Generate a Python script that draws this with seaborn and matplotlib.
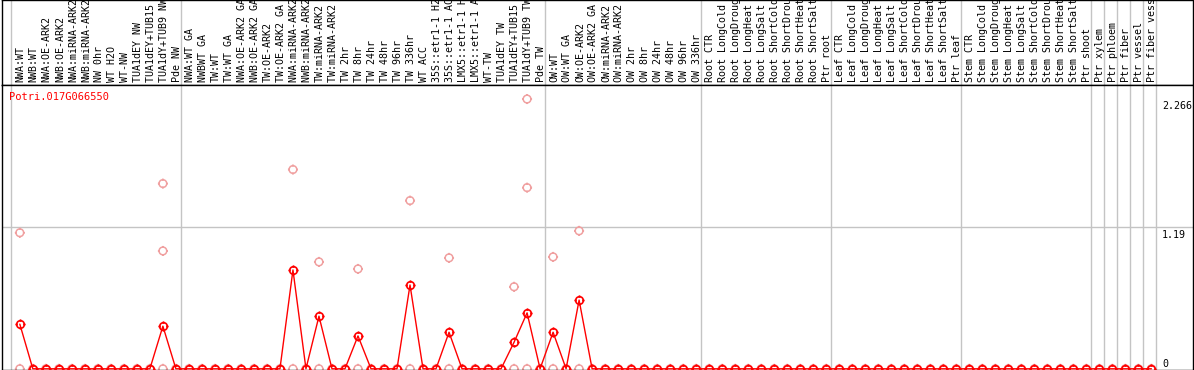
import numpy as np
import pandas as pd
import matplotlib
matplotlib.use("Agg")
import matplotlib.pyplot as plt
import matplotlib.transforms as mtransforms
from matplotlib.path import Path
from matplotlib.markers import MarkerStyle
import seaborn as sns

# ---------------- data ----------------
gene_name = "Potri.017G066550"

categories = [
    "NWA:WT", "NWB:WT", "NWA:OE-ARK2", "NWB:OE-ARK2", "NWA:miRNA-ARK2", "NWB:miRNA-ARK2",
    "NW 0hr", "WT H2O", "WT-NW", "TUA1dEY NW", "TUA1dEY+TUB15 NW", "TUA1dY+TUB9 NW", "Pde NW",
    "NWA:WT GA", "NWBWT GA", "TW:WT", "TW:WT GA", "NWA:OE-ARK2 GA", "NWB:OE-ARK2 GA",
    "TW:OE-ARK2", "TW:OE-ARK2 GA", "NWA:miRNA-ARK2 GA", "NWB:miRNA-ARK2 GA", "TW:miRNA-ARK2",
    "TW:miRNA-ARK2 GA", "TW 2hr", "TW 8hr", "TW 24hr", "TW 48hr", "TW 96hr", "TW 336hr",
    "WT ACC", "35S::etr1-1 H2O", "35S::etr1-1 ACC", "LMX5::etr1-1 H2O", "LMX5::etr1-1 ACC",
    "WT-TW", "TUA1dEY TW", "TUA1dEY+TUB15 TW", "TUA1dY+TUB9 TW", "Pde TW",
    "OW:WT", "OW:WT GA", "OW:OE-ARK2", "OW:OE-ARK2 GA", "OW:miRNA-ARK2", "OW:miRNA-ARK2 GA",
    "OW 2hr", "OW 8hr", "OW 24hr", "OW 48hr", "OW 96hr", "OW 336hr",
    "Root CTR", "Root LongCold", "Root LongDrought", "Root LongHeat", "Root LongSalt",
    "Root ShortCold", "Root ShortDrought", "Root ShortHeat", "Root ShortSalt", "Ptr root",
    "Leaf CTR", "Leaf LongCold", "Leaf LongDrought", "Leaf LongHeat", "Leaf LongSalt",
    "Leaf ShortCold", "Leaf ShortDrought", "Leaf ShortHeat", "Leaf ShortSalt", "Ptr leaf",
    "Stem CTR", "Stem LongCold", "Stem LongDrought", "Stem LongHeat", "Stem LongSalt",
    "Stem ShortCold", "Stem ShortDrought", "Stem ShortHeat", "Stem ShortSalt", "Ptr shoot",
    "Ptr xylem", "Ptr phloem", "Ptr fiber", "Ptr vessel", "Ptr fiber vessel",
]

# mean expression per category (categories not listed are 0)
nonzero_means = {
    "NWA:WT": 0.375,
    "TUA1dY+TUB9 NW": 0.358,
    "NWA:miRNA-ARK2 GA": 0.83,
    "TW:miRNA-ARK2": 0.442,
    "TW 8hr": 0.276,
    "TW 336hr": 0.704,
    "35S::etr1-1 ACC": 0.307,
    "TUA1dEY+TUB15 TW": 0.223,
    "TUA1dY+TUB9 TW": 0.47,
    "OW:WT": 0.307,
    "OW:OE-ARK2": 0.577,
}
mean_values = [nonzero_means.get(c, 0.0) for c in categories]

# non-zero replicate values (every category also has a replicate at 0)
replicate_values = {
    "NWA:WT": [1.143],
    "TUA1dY+TUB9 NW": [1.556, 0.99],
    "NWA:miRNA-ARK2 GA": [1.674],
    "TW:miRNA-ARK2": [0.898],
    "TW 8hr": [0.839],
    "TW 336hr": [1.413],
    "35S::etr1-1 ACC": [0.932],
    "TUA1dEY+TUB15 TW": [0.689],
    "TUA1dY+TUB9 TW": [2.266, 1.522],
    "OW:WT": [0.94],
    "OW:OE-ARK2": [1.159],
}

group_ends = ["Pde NW", "Pde TW", "OW 336hr", "Ptr root", "Ptr leaf", "Ptr shoot",
              "Ptr xylem", "Ptr phloem", "Ptr fiber", "Ptr vessel", "Ptr fiber vessel"]

y_ticks = [0, 1.19, 2.266]
y_tick_labels = ["0", "1.19", "2.266"]

# ---------------- build frames ----------------
pos = np.arange(len(categories))
df_mean = pd.DataFrame({"pos": pos, "value": mean_values})
rep_rows = []
for i, c in enumerate(categories):
    rep_rows.append((i, 0.0))
    for v in replicate_values.get(c, []):
        rep_rows.append((i, v))
df_rep = pd.DataFrame(rep_rows, columns=["pos", "value"])

# ---------------- styling ----------------
sns.set_theme(style="white")
plt.rcParams["font.family"] = ["DejaVu Sans Mono", "DejaVu Sans"]

W, H = 1194, 370
fig = plt.figure(figsize=(W / 100, H / 100), dpi=100)
left_px, right_px = 2, 1193
lab_bottom_px = 85
plot_bottom_px = 369.5

def fx(px):
    return px / W

def fy(py):
    return 1 - py / H

ax_lab = fig.add_axes([fx(left_px), fy(lab_bottom_px), fx(right_px - left_px), fy(0) - fy(lab_bottom_px)])
ax = fig.add_axes([fx(left_px), fy(plot_bottom_px), fx(right_px - left_px), fy(lab_bottom_px) - fy(plot_bottom_px)])

xlim = (-1.37, 90.2)
ylim = (-0.006, 2.384)
for a in (ax_lab, ax):
    a.set_xlim(*xlim)
    a.set_xticks([])
    a.set_yticks([])
    for s in a.spines.values():
        s.set_color("black")
        s.set_linewidth(1.0)
    a.set_facecolor("white")

ax.set_ylim(*ylim)
ax_lab.set_ylim(0, 85)

# custom marker: circle with small ticks
circ = Path.unit_circle()
ticks = []
codes = []
for (dx, dy) in [(0, 1), (0, -1), (1, 0), (-1, 0)]:
    ticks += [(dx * 0.8, dy * 0.8), (dx * 1.3, dy * 1.3)]
    codes += [Path.MOVETO, Path.LINETO]
tick_path = Path(ticks, codes)
marker_path = Path.make_compound_path(circ, tick_path)
mk = MarkerStyle(marker_path)

# separators
sep_positions = [-1 + 0.34] + [categories.index(g) + 0.37 for g in group_ends]
for a in (ax_lab, ax):
    for sp in sep_positions:
        a.axvline(sp, color="#c4c4c4", lw=1.0, zorder=1)

# gridline at 1.19
ax.axhline(1.19, color="#c4c4c4", lw=1.0, zorder=1)

# replicates
sns.scatterplot(data=df_rep, x="pos", y="value", ax=ax, marker=mk, s=52,
                facecolor="none", edgecolor="#f0a0a0", linewidth=1.1, zorder=2,
                legend=False, clip_on=False)
# mean line
sns.lineplot(data=df_mean, x="pos", y="value", ax=ax, color="red", lw=1.0,
             marker=mk, markersize=7.2, markerfacecolor="none", markeredgecolor="red",
             markeredgewidth=1.2, zorder=3, legend=False, clip_on=False)
ax.set_xlabel("")
ax.set_ylabel("")
ax.set_xlim(*xlim)
ax.set_ylim(*ylim)

# category labels (rotated, clipped at top like the reference)
for i, c in enumerate(categories):
    ax_lab.text(i + 0.08, 3, c, rotation=90, ha="center", va="bottom", fontsize=7.2,
                color="black", clip_on=True)

# y tick labels inside on the right
trans = mtransforms.blended_transform_factory(ax.transAxes, ax.transData)
tx = (1162 - left_px) / (right_px - left_px)
for v, t in zip(y_ticks, y_tick_labels):
    if v == 0:
        ax.text(tx, v, t, transform=trans, ha="left", va="bottom", fontsize=7.2,
                color="black")
    else:
        ax.text(tx, v - 0.02, t, transform=trans, ha="left", va="top", fontsize=7.2,
                color="black")

# gene name
ax.text((9 - left_px) / (right_px - left_px), 0.975, gene_name, transform=ax.transAxes,
        ha="left", va="top", fontsize=7.5, color="red")

fig.savefig("out.png", dpi=100)
